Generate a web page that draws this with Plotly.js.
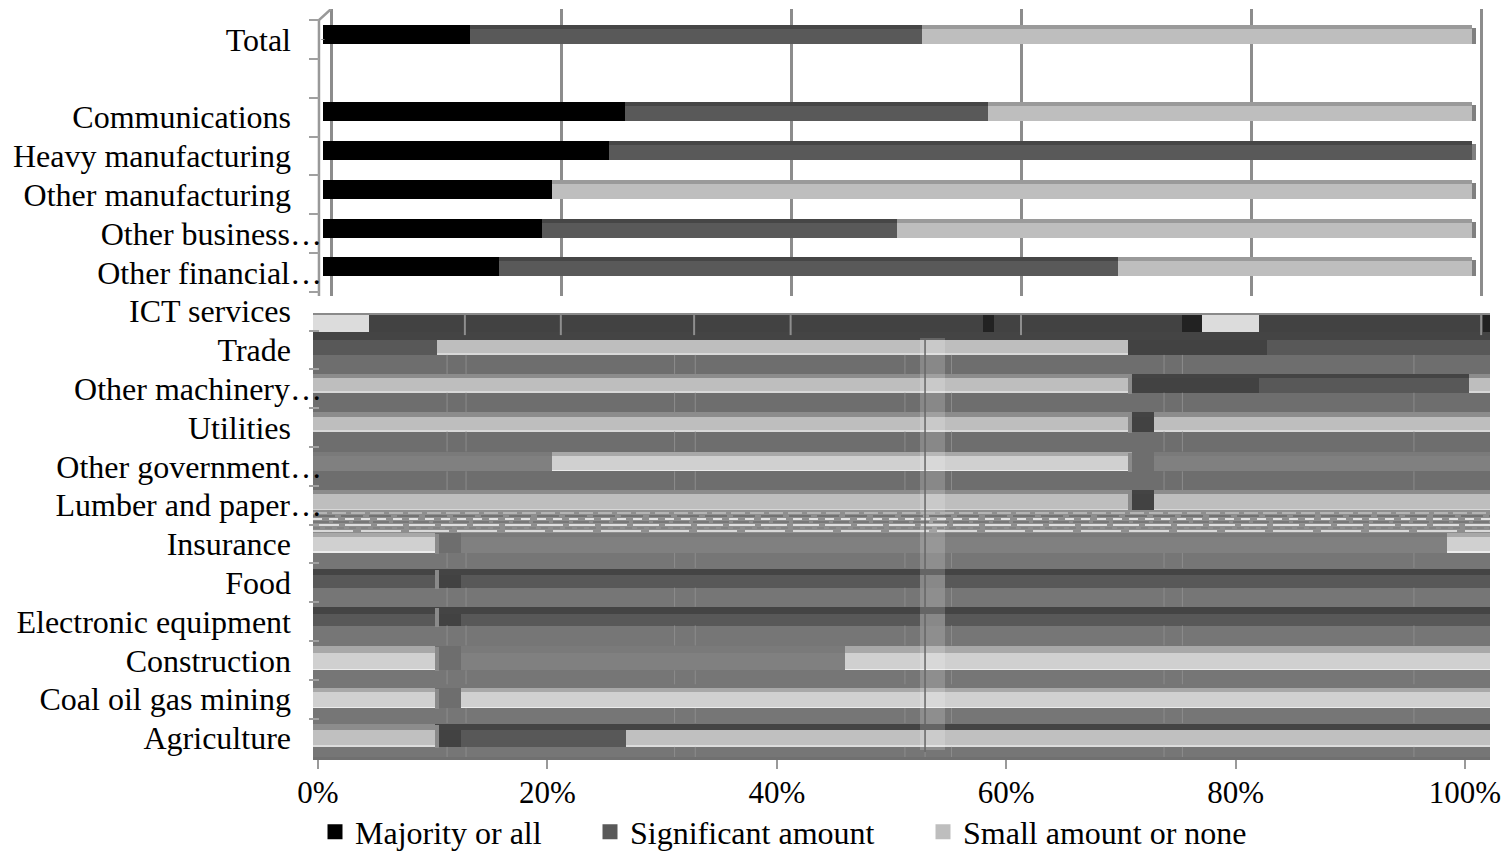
<!DOCTYPE html>
<html><head><meta charset="utf-8">
<script src="https://cdn.plot.ly/plotly-3.0.1.min.js"></script>
<style>html,body{margin:0;padding:0;background:#fff}</style></head>
<body><div id="chart" style="width:1509px;height:852px"></div>
<script>
// ---------- data ----------
const rowLabels=['Total','','Communications','Heavy manufacturing','Other manufacturing','Other business…','Other financial…','ICT services','Trade','Other machinery…','Utilities','Other government…','Lumber and paper…','Insurance','Food','Electronic equipment','Construction','Coal oil gas mining','Agriculture'];
const plainRows=[0,2,3,4,7,8,10,13,14,15,16,17,18];
const clippedRows=[5,6,9,11,12];
const intactRows=[0,2,3,4,5,6];
const majority=[12.8,26.3,24.9,19.9,19.1,15.3];
const significant=[39.3,31.6,75.1,0,30.9,53.9];
const smallNone=[47.9,42.1,0,80.1,50.0,30.8];
const seriesNames=['Majority or all','Significant amount','Small amount or none'];
const tickValues=[0,20,40,60,80,100];
const tickLabels=['0%','20%','40%','60%','80%','100%'];

// scrambled lower part of the picture, read as bands along the value axis
const ictStops=[-0.87,4.0,57.4,58.4,74.8,76.5,81.5,101.0,101.6];
const ictKinds=['W','D','K','D','K','W','D','K'];
const tradeStops=[-0.87,9.9,70.1,82.2,101.6];
const tradeKinds=['S','L','D','S'];
const machStops=[-0.87,70.4,81.5,99.7,101.6];
const machKinds=['L','D','S','L'];
const utilStops=[-0.87,70.4,72.3,101.6];
const utilKinds=['L','D','L'];
const govStops=[-0.87,19.9,70.4,72.3,101.6];
const govKinds=['G','P','M','G'];
const lumberStops=[-0.87,70.4,72.3,101.6];
const lumberKinds=['L','D','L'];
const insStops=[-0.87,9.75,12.0,97.8,101.6];
const insKinds=['P','M','G','P'];
const foodStops=[-0.87,9.75,12.0,52.0,54.1,101.6];
const foodKinds=['S','D','S','M','S'];
const elecStops=[-0.87,9.75,12.0,52.0,54.1,101.6];
const elecKinds=['S','D','S','M','S'];
const consStops=[-0.87,9.75,12.0,45.4,101.6];
const consKinds=['P','M','G','P'];
const coalStops=[-0.87,9.75,12.0,101.6];
const coalKinds=['P','M','P'];
const agriStops=[-0.87,9.75,12.0,26.4,101.6];
const agriKinds=['C','D','S','C'];
const bandLines=[10.8,12.45,30.6,32.4,50.65,52.4,54.7,73.2,74.8,94.95];
const ictLines=[12.35,20.7,32.3,40.7,60.75,100.8];

// ---------- styles and geometry ----------
const W=1509,H=852,font='"Liberation Serif",serif',fs=32;
const faceCol={W:'#dcdcdc',D:'#424242',K:'#222222',S:'#585858',L:'#bebebe',P:'#d0d0d0',G:'#808080',M:'#6e6e6e',C:'#c0c0c0'};
const stripCol={W:'#dcdcdc',D:'#444444',K:'#222222',S:'#444444',L:'#8c8c8c',P:'#a8a8a8',G:'#7a7a7a',M:'#6e6e6e',C:'#8c8c8c'};
const edgeCol={P:'#ececec',L:'#d8d8d8',C:'#dcdcdc'};
const toRow=p=>p/38.8;
const rowAt=p=>(p-39.5)/38.8;
const lowerRows=[
 {r:8,s:tradeStops,k:tradeKinds,top:-15,mid:-10,end:5,dark:true},
 {r:9,s:machStops,k:machKinds,top:-15,mid:-11,end:4,side:70.05},
 {r:10,s:utilStops,k:utilKinds,top:-16,mid:-11,end:4,side:70.05},
 {r:11,s:govStops,k:govKinds,top:-14,mid:-10,end:5,side:70.05},
 {r:12,s:lumberStops,k:lumberKinds,top:-15,mid:-11,end:5,side:70.05},
 {r:13,s:insStops,k:insKinds,top:-11,mid:-7,end:9,side:9.75},
 {r:14,s:foodStops,k:foodKinds,top:-14,mid:-8,end:5,dark:true,side:9.75},
 {r:15,s:elecStops,k:elecKinds,top:-15,mid:-8,end:4,dark:true,side:9.75},
 {r:16,s:consStops,k:consKinds,top:-14,mid:-7,end:10,side:9.75},
 {r:17,s:coalStops,k:coalKinds,top:-11,mid:-7,end:9,side:9.75},
 {r:18,s:agriStops,k:agriKinds,top:-14,mid:-8,end:9,dark:true,side:9.75}
];

const traces=[];
const on={xaxis:'x2',yaxis:'y2',hoverinfo:'skip',showlegend:false};
function barSet(color,y,base,x,off,wid,extra){
  traces.push(Object.assign({type:'bar',orientation:'h',y,base,x,offset:off,width:wid,marker:{color,line:{width:0}}},on,extra||{}));
}
traces.push({type:'scatter',mode:'none',x:[0,100],y:[0,1],xaxis:'x',yaxis:'y',hoverinfo:'skip',showlegend:false});

const cumA=majority, cumB=majority.map((v,i)=>v+significant[i]);
const zeros=majority.map(()=>0);
const tStrip=toRow(-15),tFace=toRow(-11),hFace=toRow(15),hStrip=toRow(4);
barSet('#000000',intactRows,zeros,majority,tStrip,hStrip);
barSet('#464646',intactRows,cumA,significant,tStrip,hStrip);
barSet('#9a9a9a',intactRows,cumB,smallNone,tStrip,hStrip);
barSet('#000000',intactRows,zeros,majority,tFace,hFace);
barSet('#595959',intactRows,cumA,significant,tFace,hFace);
barSet('#bebebe',intactRows,cumB,smallNone,tFace,hFace);
barSet('#808080',intactRows,intactRows.map(()=>100),intactRows.map(()=>0.35),tStrip+toRow(3),toRow(16));

// legend keys: same three series, zero-length bars with a wider stroke for the larger key
['#000000','#595959','#bebebe'].forEach((c,i)=>{
  traces.push(Object.assign({type:'bar',orientation:'h',y:[0],x:[0],base:[0],width:0.01,marker:{color:c,line:{color:c,width:3}}},on,
    {name:seriesNames[i],showlegend:true,legend:['legend','legend2','legend3'][i]}));
});

const fullBase=-0.87,fullLen=102.47;
barSet('#6e6e6e',[8,9,10,11,12],[0,0,0,0,0].map(()=>fullBase),[0,0,0,0,0].map(()=>fullLen),-0.5,1);
barSet('#767676',[13,14,15,16,17,18],[0,0,0,0,0,0].map(()=>fullBase),[0,0,0,0,0,0].map(()=>fullLen),-0.5,1);

barSet('#8a8a8a',[7],[fullBase],[fullLen],toRow(2),toRow(3));
ictKinds.forEach((k,i)=>barSet(faceCol[k],[7],[ictStops[i]],[ictStops[i+1]-ictStops[i]],toRow(4),toRow(20)));
barSet('#444444',[8],[fullBase],[fullLen],toRow(-18),toRow(5));

lowerRows.forEach(o=>{
  o.k.forEach((k,i)=>{
    const b=o.s[i],l=o.s[i+1]-o.s[i];
    const sc=o.dark?(o.r===18&&i===0?'#8c8c8c':'#444444'):stripCol[k];
    barSet(sc,[o.r],[b],[l],toRow(o.top),toRow(o.mid-o.top));
    barSet(faceCol[k],[o.r],[b],[l],toRow(o.mid),toRow(o.end-o.mid));
    if(edgeCol[k]) barSet(edgeCol[k],[o.r],[b],[l],toRow(o.end-1.5),toRow(1.5));
  });
  if(o.side!==undefined) barSet('#8a8a8a',[o.r],[o.side],[0.32],toRow(o.top+1),toRow(o.end-o.top));
});
barSet('#8e8e8e',[12],[fullBase],[fullLen],toRow(5),toRow(23));
barSet('rgba(255,255,255,0.18)',[13],[52.0],[2.1],rowAt(338)-13,rowAt(750)-rowAt(338));

const noise=[[513,'#b4b4b4','14px,5px',2],[516,'#6a6a6a','22px,6px',1.5],[519,'#e2e2e2','9px,7px',2],[522,'#707070','16px,4px',1.5],[525,'#dedede','26px,6px',2],[528,'#808080','7px,5px',1.5],[531,'#f2f2f2','40px,8px',1.5]];
noise.forEach(n=>traces.push(Object.assign({type:'scatter',mode:'lines',x:[fullBase,fullBase+fullLen],y:[rowAt(n[0]),rowAt(n[0])],line:{color:n[1],dash:n[2],width:n[3]}},on)));

const vx=[],vy=[];
lowerRows.forEach(o=>{
  bandLines.forEach(v=>{vx.push(v,v,null);vy.push(o.r+toRow(o.end),o.r+toRow(o.r===12?5:24),null);});
});
traces.push(Object.assign({type:'scatter',mode:'lines',x:vx,y:vy,line:{color:'#8c8c8c',width:1}},on));
const ix=[],iy=[];
ictLines.forEach(v=>{ix.push(v,v,null);iy.push(7+toRow(4),7+toRow(24),null);});
traces.push(Object.assign({type:'scatter',mode:'lines',x:ix,y:iy,line:{color:'#8e8e8e',width:2}},on));
traces.push(Object.assign({type:'scatter',mode:'lines',x:[52.4,52.4],y:[rowAt(338),rowAt(752)],line:{color:'#666666',width:1.5}},on));
traces.push(Object.assign({type:'scatter',mode:'lines',x:[0.7,-0.26,-0.35,-0.35],y:[rowAt(9),rowAt(20),rowAt(20),rowAt(296)],line:{color:'#999999',width:2.5}},on));

[['x3','y2'],['x2','y3'],['x2','y4'],['x2','y5']].forEach(a=>traces.push({type:'scatter',mode:'none',x:[0],y:[0],xaxis:a[0],yaxis:a[1],hoverinfo:'skip',showlegend:false}));

const xDom=[313/W,1490/W];
const yDom=[(H-757)/H,(H-9)/H];
const yRange=[rowAt(757),rowAt(9)];
const hidden={visible:false,showgrid:false,zeroline:false,fixedrange:true};
const labelAxis=(rows,pos)=>({overlaying:'y2',anchor:'free',position:pos,side:'left',domain:yDom,range:yRange,tickmode:'array',tickvals:rows,ticktext:rows.map(r=>rowLabels[r]),ticks:'',showgrid:false,zeroline:false,showline:false,tickfont:{family:font,size:fs,color:'#000'},fixedrange:true});
const legendCommon={orientation:'h',xanchor:'left',yanchor:'middle',bgcolor:'rgba(0,0,0,0)',font:{family:font,size:fs,color:'#000'},y:(H-832)/H,itemclick:false,itemdoubleclick:false};
const layout={
  width:W,height:H,margin:{l:0,r:0,t:0,b:0,pad:0,autoexpand:false},paper_bgcolor:'#fff',plot_bgcolor:'rgba(0,0,0,0)',
  barmode:'overlay',bargap:0,showlegend:true,
  xaxis:{domain:xDom,anchor:'y',range:[-1.565,100.78],tickmode:'array',tickvals:tickValues,ticktext:['','','','','',''],ticks:'',showgrid:true,gridcolor:'#8c8c8c',gridwidth:3,zeroline:false,showline:false,fixedrange:true},
  yaxis:{domain:[(H-296)/H,(H-9)/H],anchor:'x',range:[0,1],visible:false,showgrid:false,zeroline:false,fixedrange:true},
  xaxis2:Object.assign({domain:xDom,anchor:'y2',range:[-0.87,101.57]},hidden),
  yaxis2:{domain:yDom,anchor:'x2',range:yRange,showgrid:false,zeroline:false,showline:false,tickmode:'array',tickvals:[],fixedrange:true},
  xaxis3:{overlaying:'x2',anchor:'y2',side:'bottom',domain:xDom,range:[-0.436,102.18],tickmode:'array',tickvals:tickValues,ticktext:tickLabels,ticks:'outside',ticklen:9,tickwidth:2,tickcolor:'#9a9a9a',showline:true,linecolor:'#707070',linewidth:3,showgrid:false,zeroline:false,tickfont:{family:font,size:31,color:'#000'},ticklabelstandoff:-3,fixedrange:true},
  yaxis3:{overlaying:'y2',anchor:'free',position:319/W,side:'left',domain:yDom,range:yRange,tickmode:'array',tickvals:rowLabels.map((_,i)=>i-0.5).concat([18.5]),ticktext:rowLabels.map(()=>'').concat(['']),ticks:'outside',ticklen:10,tickwidth:2,tickcolor:'#a0a0a0',showgrid:false,zeroline:false,showline:false,fixedrange:true},
  yaxis4:labelAxis(plainRows,291/W),
  yaxis5:labelAxis(clippedRows,322/W),
  legend:Object.assign({x:315/W},legendCommon),
  legend2:Object.assign({x:590/W},legendCommon),
  legend3:Object.assign({x:923/W},legendCommon)
};
Plotly.newPlot('chart',traces,layout,{displayModeBar:false,staticPlot:true});
</script></body></html>
